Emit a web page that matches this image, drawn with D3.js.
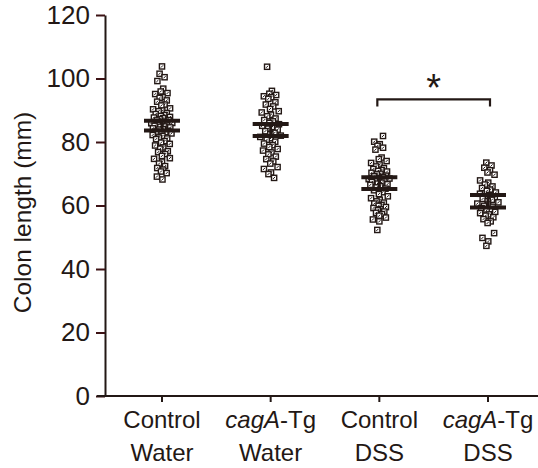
<!DOCTYPE html>
<html>
<head>
<meta charset="utf-8">
<script src="https://cdnjs.cloudflare.com/ajax/libs/d3/7.8.5/d3.min.js"></script>
<style>
  html, body { margin: 0; padding: 0; background: #fff; }
  svg { display: block; }
  text { font-family: "Liberation Sans", Arial, Helvetica, sans-serif; fill: #231815; }
</style>
</head>
<body>
<svg id="vis"></svg>
<script>
// groups on the x axis (line 1 / line 2 of the label)
const groups = ["ctlWater", "tgWater", "ctlDSS", "tgDSS"];
const labelTop = [["Control", ""], ["cagA", "-Tg"], ["Control", ""], ["cagA", "-Tg"]];
const labelBottom = ["Water", "Water", "DSS", "DSS"];

// colon length (mm) of each animal
const ctlWater = [103.8, 101.5, 100.4, 99.2, 96.8, 95.9, 95.4, 95.1, 94.2, 93.9, 93.1, 92.7, 91.8, 91.5,
    90.6, 90.3, 89.9, 89.7, 89.1, 88.8, 88.5, 88.2, 87.9, 87.7, 87.5, 87.2, 86.9, 86.8, 86.4, 86.3, 86.0,
    85.9, 85.6, 85.4, 85.2, 85.1, 84.9, 84.8, 84.6, 84.3, 84.0, 83.9, 83.5, 83.3, 83.1, 82.8, 82.7, 82.2,
    81.9, 81.4, 81.1, 80.9, 80.3, 79.8, 79.4, 78.9, 78.3, 77.9, 77.1, 76.8, 76.2, 75.6, 74.9, 74.7, 73.8,
    73.2, 72.4, 71.8, 71.3, 70.7, 70.2, 69.1, 68.2];
const tgWater = [103.7, 96.1, 95.2, 94.8, 94.4, 94.1, 93.6, 92.5, 91.8, 91.2, 90.4, 89.7, 89.3, 88.6,
    88.1, 87.4, 86.9, 86.5, 86.0, 85.6, 85.1, 84.7, 84.2, 83.9, 83.4, 82.9, 82.5, 82.0, 81.6, 81.2, 80.7,
    80.1, 79.5, 79.0, 78.4, 77.8, 77.3, 76.7, 76.1, 75.4, 74.6, 73.9, 73.2, 72.1, 71.5, 70.4, 69.9, 68.7];
const ctlDSS = [81.9, 80.1, 79.3, 78.8, 78.2, 77.6, 75.1, 74.6, 74.0, 73.4, 72.9, 72.3, 71.8, 71.5, 71.2,
    70.9, 70.7, 70.3, 70.0, 69.8, 69.4, 69.2, 69.0, 68.7, 68.5, 68.3, 68.1, 67.9, 67.6, 67.4, 67.2, 66.9,
    66.7, 66.5, 66.1, 65.7, 65.3, 64.8, 64.2, 63.6, 62.9, 62.3, 61.8, 61.3, 60.9, 60.6, 60.2, 59.9, 59.5,
    59.2, 58.8, 58.5, 58.1, 57.7, 57.3, 56.8, 56.2, 55.6, 55.0, 52.3];
const tgDSS = [73.5, 72.6, 71.9, 71.1, 70.4, 69.7, 67.9, 67.2, 66.6, 66.0, 65.5, 65.0, 64.6, 64.1, 63.7,
    63.3, 62.9, 62.5, 62.1, 61.8, 61.4, 61.0, 60.6, 60.3, 59.9, 59.6, 59.2, 58.8, 58.4, 58.0, 57.6, 57.2,
    56.8, 56.3, 55.7, 55.0, 54.5, 51.3, 49.8, 48.7, 47.3];
const groupValues = [ctlWater, tgWater, ctlDSS, tgDSS];

// error bars (upper / lower)
const barUpper = [86.7, 85.7, 68.9, 63.3];
const barLower = [83.6, 81.9, 65.2, 59.4];

const yTicks = [0, 20, 40, 60, 80, 100, 120];
const sigPair = ["ctlDSS", "tgDSS"];
const sigLevel = 93.4;

const WIDTH = 538;
const HEIGHT = 468;
const INK = "#231815";
const TICKINK = "#3d1214";

let svg = d3.select("#vis")
    .attr("width", WIDTH)
    .attr("height", HEIGHT);

let yScale = d3.scaleLinear()
    .domain([0, 120])
    .range([396, 15]);

let xScale = d3.scalePoint()
    .domain(groups)
    .range([162, 488]);

// y axis
let yAxis = svg.append("g")
    .attr("transform", "translate(105,0)")
    .call(d3.axisLeft(yScale).tickValues(yTicks).tickSize(9).tickSizeOuter(0).tickPadding(6));
yAxis.select(".domain").attr("stroke", INK).attr("stroke-width", 2);
yAxis.selectAll(".tick line").attr("stroke", TICKINK).attr("stroke-width", 2);
yAxis.selectAll(".tick text")
    .attr("font-size", "26px")
    .attr("font-family", "Liberation Sans, Arial, sans-serif")
    .attr("fill", INK);

// x axis
svg.append("line")
    .attr("x1", 97).attr("x2", 538)
    .attr("y1", yScale(0)).attr("y2", yScale(0))
    .attr("stroke", INK).attr("stroke-width", 2);
svg.selectAll(".xtick")
    .data(groups)
    .enter()
    .append("line")
    .attr("class", "xtick")
    .attr("x1", d => xScale(d)).attr("x2", d => xScale(d))
    .attr("y1", yScale(0)).attr("y2", yScale(0) + 6)
    .attr("stroke", INK).attr("stroke-width", 2);

// x labels
let lab = svg.selectAll(".xlab")
    .data(groups)
    .enter()
    .append("text")
    .attr("class", "xlab")
    .attr("x", d => xScale(d))
    .attr("y", 428)
    .attr("font-size", "24px")
    .style("text-anchor", "middle");
lab.append("tspan")
    .attr("font-style", (d, i) => labelTop[i][1] ? "italic" : "normal")
    .text((d, i) => labelTop[i][0]);
lab.append("tspan")
    .text((d, i) => labelTop[i][1]);
svg.selectAll(".xlab2")
    .data(groups)
    .enter()
    .append("text")
    .attr("class", "xlab2")
    .attr("x", d => xScale(d))
    .attr("y", 461)
    .attr("font-size", "24px")
    .style("text-anchor", "middle")
    .text((d, i) => labelBottom[i]);

// y title
svg.append("text")
    .attr("transform", "translate(31," + ((yScale(0) + yScale(120)) / 2 + 7) + ") rotate(-90)")
    .attr("font-size", "24.5px")
    .style("text-anchor", "middle")
    .text("Colon length (mm)");

// van der Corput (base 2) - spreads neighbours apart sideways
function vdc(n) {
    let r = 0, b = 0.5;
    while (n > 0) {
        r += (n & 1) * b;
        n >>= 1;
        b /= 2;
    }
    return r;
}

// points, spread sideways a little so they don't pile up
groups.forEach(function(g, gi) {
    let vals = groupValues[gi];
    let mid = d3.median(vals);
    let maxDev = d3.max(vals, v => Math.abs(v - mid));
    let cx = xScale(g);
    let pts = svg.append("g").selectAll("g")
        .data(vals)
        .enter()
        .append("g")
        .attr("transform", function(v, i) {
            let half = 11.5 * (1 - 0.55 * Math.abs(v - mid) / maxDev);
            let u = 2 * vdc(i + 1 + gi * 3) - 1;
            let dx = Math.sign(u) * Math.pow(Math.abs(u), 1.3) * half;
            return "translate(" + (cx + dx) + "," + yScale(v) + ")";
        });
    pts.append("rect")
        .attr("x", -2.6).attr("y", -2.6)
        .attr("width", 5.2).attr("height", 5.2)
        .attr("fill", "#fff")
        .attr("stroke", INK)
        .attr("stroke-width", 1.4);
    pts.append("line")
        .attr("x1", -1.1).attr("y1", 1.1)
        .attr("x2", 1.1).attr("y2", -1.1)
        .attr("stroke", INK)
        .attr("stroke-width", 1);
});

// error bars
svg.selectAll(".ebv")
    .data(groups)
    .enter()
    .append("line")
    .attr("x1", d => xScale(d)).attr("x2", d => xScale(d))
    .attr("y1", (d, i) => yScale(barUpper[i])).attr("y2", (d, i) => yScale(barLower[i]))
    .attr("stroke", INK).attr("stroke-width", 3);
[barUpper, barLower].forEach(function(arr) {
    svg.append("g").selectAll("line")
        .data(groups)
        .enter()
        .append("line")
        .attr("x1", d => xScale(d) - 18).attr("x2", d => xScale(d) + 18)
        .attr("y1", (d, i) => yScale(arr[i])).attr("y2", (d, i) => yScale(arr[i]))
        .attr("stroke", INK).attr("stroke-width", 4);
});

// significance bracket
let bx1 = xScale(sigPair[0]) - 2;
let bx2 = xScale(sigPair[1]) + 2;
let by = yScale(sigLevel);
svg.append("path")
    .attr("d", "M" + bx1 + "," + (by + 7) + "V" + by + "H" + bx2 + "V" + (by + 7))
    .attr("fill", "none")
    .attr("stroke", INK)
    .attr("stroke-width", 2.2);
svg.append("text")
    .attr("x", (bx1 + bx2) / 2)
    .attr("y", by + 2)
    .attr("font-size", "38px")
    .style("text-anchor", "middle")
    .text("*");
</script>
</body>
</html>
